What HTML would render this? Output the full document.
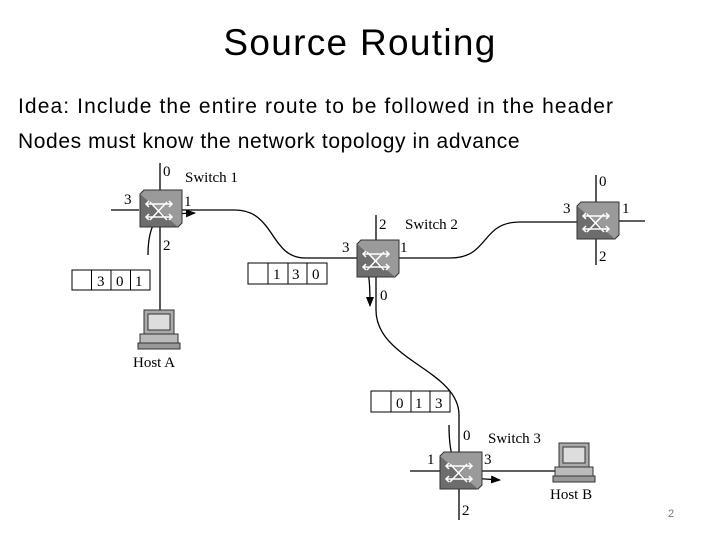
<!DOCTYPE html>
<html><head><style>
body{margin:0;width:720px;height:540px;background:#fff;overflow:hidden;position:relative;font-family:"Liberation Sans",sans-serif}
.t{position:absolute;white-space:nowrap;color:#000}
</style></head><body>
<div class="t" style="left:0;width:720px;text-align:center;top:22px;font-size:37px;letter-spacing:1.3px">Source Routing</div>
<div class="t" style="left:18px;top:95px;font-size:21px;letter-spacing:1.1px">Idea: Include the entire route to be followed in the header</div>
<div class="t" style="left:18px;top:130px;font-size:21px;letter-spacing:0.6px">Nodes must know the network topology in advance</div>
<div class="t" style="left:668px;top:508px;font-size:11px;color:#777">2</div>
<svg width="720" height="540" style="position:absolute;left:0;top:0" font-family="Liberation Serif, serif" font-size="15">
<defs>
<marker id="a" markerWidth="10" markerHeight="8" refX="9" refY="4" orient="auto" markerUnits="userSpaceOnUse"><path d="M0,0L10,4L0,8z" fill="#000"/></marker>
<g id="sw">
<rect x="0" y="0" width="38" height="33" fill="#6d6d6d" stroke="#333"/>
<path d="M0,0l4,-4h38v33l-4,4" fill="#9a9a9a" stroke="#333"/>
<g stroke="#fff" stroke-width="1.5" fill="none"><path d="M6,10h26M6,23h26M10,8l17,18M27,8l-17,18"/><path d="M9,7l-3,3l3,3M29,7l3,3l-3,3M9,20l-3,3l3,3M29,20l3,3l-3,3"/></g>
</g>
<g id="pc">
<rect x="4" y="0" width="30" height="24" fill="#aaa" stroke="#333"/>
<rect x="8" y="4" width="22" height="16" fill="#ddd" stroke="#333"/>
<rect x="0" y="24" width="38" height="9" fill="#bbb" stroke="#333"/>
<rect x="-2" y="33" width="42" height="6" fill="#999" stroke="#333"/>
</g>
</defs>
<g stroke="#000" stroke-width="1.3" fill="none">
<path d="M160,163V310M111,210H139"/>
<path d="M178,210H235C275,210 270,258 305,258H357"/>
<path d="M376,215V242M393,258H450C490,258 480,222 520,222H577"/>
<path d="M596,175V265M615,221H645"/>
<path d="M376,276V310C376,360 459,370 459,415V520"/>
<path d="M410,471H440M478,471H555"/>
<path d="M148,255C148,230 155,213 170,214L195,213" marker-end="url(#a)"/>
<path d="M362,268C368,268 370,272 370,306" marker-end="url(#a)"/>
<path d="M449,425C449,455 455,475 470,478L500,480" marker-end="url(#a)"/>
</g>
<use href="#sw" x="140" y="194"/>
<use href="#sw" x="357" y="244"/>
<use href="#sw" x="577" y="206"/>
<use href="#sw" x="440" y="456"/>
<use href="#pc" x="140" y="310"/>
<use href="#pc" x="555" y="443"/>
<g fill="#fff" stroke="#000">
<rect x="72" y="270" width="78" height="20"/><path d="M91.5,270v20M111,270v20M130.5,270v20"/>
<rect x="248" y="263" width="79" height="21"/><path d="M268,263v21M288,263v21M307,263v21"/>
<rect x="371" y="391" width="79" height="21"/><path d="M391,391v21M411,391v21M430,391v21"/>
</g>
<g fill="#000">
<text x="97" y="286">3</text><text x="116" y="286">0</text><text x="135" y="286">1</text>
<text x="273" y="279">1</text><text x="292" y="279">3</text><text x="312" y="279">0</text>
<text x="396" y="408">0</text><text x="415" y="408">1</text><text x="435" y="408">3</text>
<text x="163" y="176">0</text><text x="185" y="182">Switch 1</text><text x="124" y="204">3</text><text x="184" y="206">1</text><text x="163" y="250">2</text>
<text x="133" y="367">Host A</text>
<text x="379" y="229">2</text><text x="405" y="229">Switch 2</text><text x="342" y="252">3</text><text x="400" y="252">1</text><text x="380" y="300">0</text>
<text x="599" y="186">0</text><text x="563" y="213">3</text><text x="622" y="213">1</text><text x="599" y="261">2</text>
<text x="463" y="440">0</text><text x="488" y="443">Switch 3</text><text x="427" y="464">1</text><text x="484" y="464">3</text><text x="462" y="515">2</text>
<text x="550" y="499">Host B</text>
</g>
</svg>
</body></html>
